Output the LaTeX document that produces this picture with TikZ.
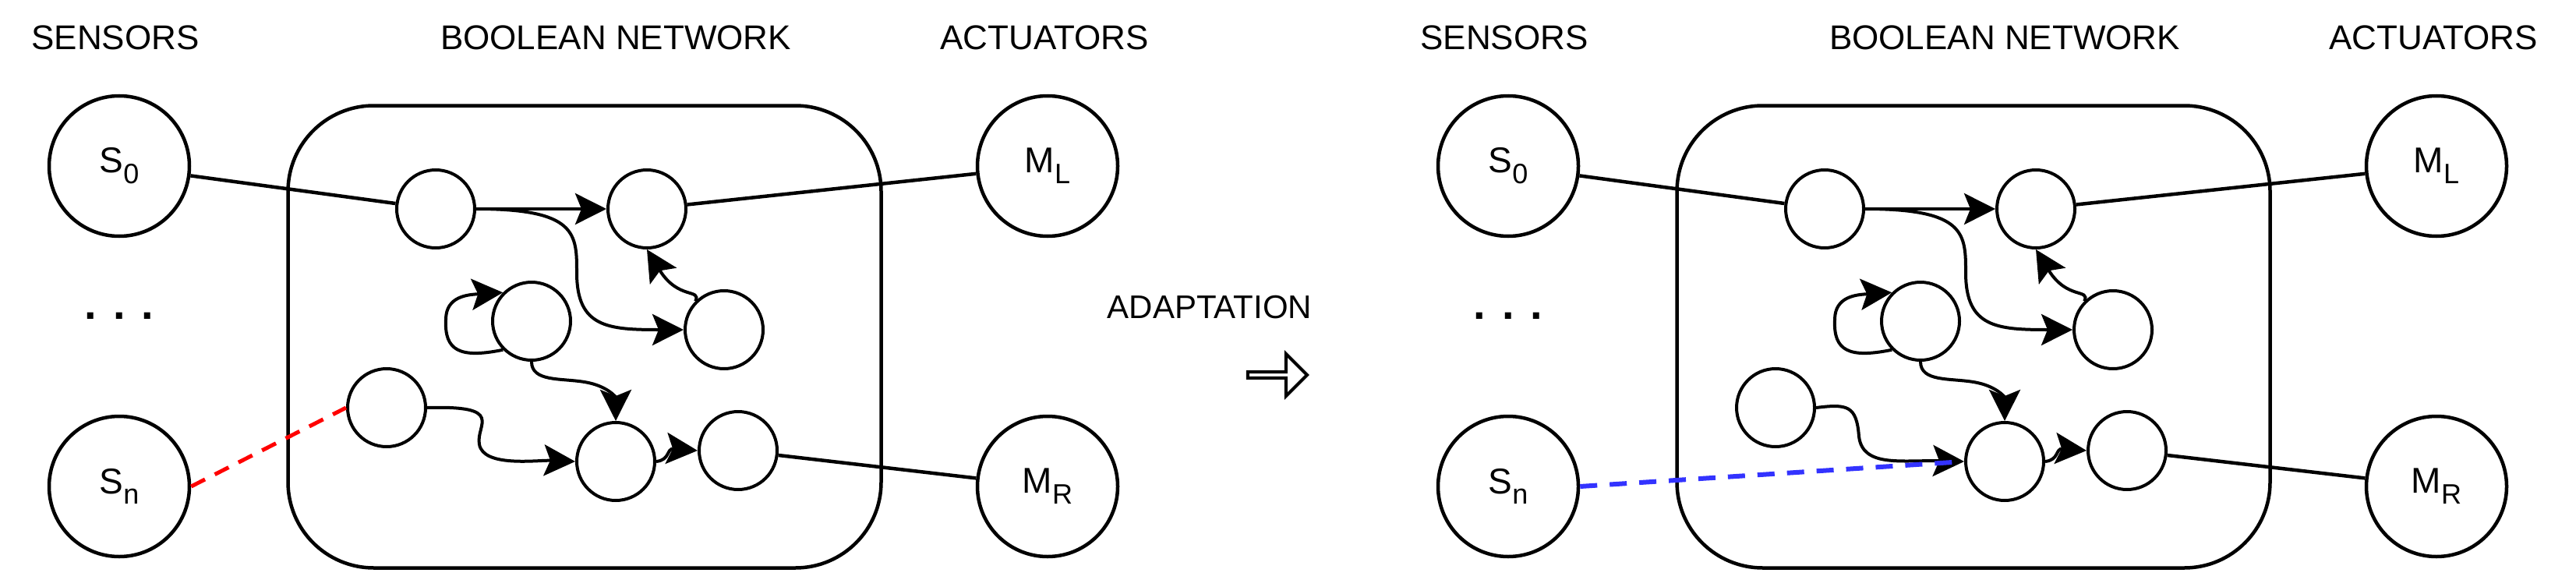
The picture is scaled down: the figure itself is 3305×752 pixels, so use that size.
\documentclass[tikz,border=0pt]{standalone}
\usepackage{fontspec}
\setmainfont{Liberation Sans}
\usetikzlibrary{arrows.meta,shapes.arrows}
\newcommand\mysub[1]{\raisebox{-0.3em}{\fontsize{36}{40}\selectfont #1}}
\begin{document}
\begin{tikzpicture}[x=1pt,y=-1pt,
  big/.style={circle,draw,line width=4.5pt,minimum size=180pt,inner sep=0pt,font=\fontsize{46}{50}\selectfont},
  small/.style={circle,draw,line width=4pt,minimum size=100pt,inner sep=0pt},
  conn/.style={line width=4.5pt},
  edge/.style={line width=4pt,-{Stealth[length=40pt,width=40pt,inset=8pt]}},
  head/.style={font=\fontsize{44}{50}\selectfont,anchor=center}]
\useasboundingbox (0,0) rectangle (3305,752);
\newcommand\panelx[2]{%
\begin{scope}[xshift=#1]
\node[head] (#2h1) at (148,48) {SENSORS};
\node[head] (#2h2) at (790,48) {BOOLEAN NETWORK};
\node[head] (#2h3) at (1340,48) {ACTUATORS};
\node[draw,line width=4.5pt,rounded corners=110pt,minimum width=761pt,minimum height=593pt] (#2box) at (750,432) {};
\node[big] (#2S0) at (153,213) {S\mysub{0}};
\node[big] (#2Sn) at (153,624) {S\mysub{n}};
\node[font=\fontsize{56}{50}\selectfont\bfseries] (#2dots) at (153,405) {. . .};
\node[big] (#2ML) at (1344,213) {M\mysub{L}};
\node[big] (#2MR) at (1344,624) {M\mysub{R}};
\node[small] (#2A) at (559,268) {};
\node[small] (#2B) at (830,268) {};
\node[small] (#2C) at (682,412) {};
\node[small] (#2D) at (929,423) {};
\node[small] (#2E) at (496,523) {};
\node[small] (#2F) at (790,592) {};
\node[small] (#2G) at (947,578) {};
\draw[conn] (#2S0) -- (#2A);
\draw[conn] (#2B) -- (#2ML);
\draw[conn] (#2G) -- (#2MR);
\draw[edge] (#2A) -- (#2B);
\draw[edge] (#2A.east) .. controls (740,268) and (740,300) .. (740,350) .. controls (740,420) and (780,423) .. (#2D.west);
\draw[edge] (#2D.north west) .. controls (900,370) and (870,385) .. (#2B.south);
\draw[edge] (#2C.south west) .. controls (590,460) and (570,450) .. (572,410) .. controls (572,380) and (600,378) .. (#2C.north west);
\draw[edge] (#2C.south) .. controls (682,490) and (720,485) .. (750,490) .. controls (780,495) and (790,510) .. (#2F.north);
\draw[edge] (#2F.east) .. controls (860,590) and (855,575) .. (#2G.west);
\end{scope}}
\panelx{0}{L}
\panelx{1782}{R}
\draw[edge] (LE.east) .. controls (650,520) and (610,545) .. (615,570) .. controls (620,600) and (690,590) .. (LF.west);
\draw[line width=5pt,red,dash pattern=on 20pt off 14pt] (LSn.east) -- (LE.west);
\draw[edge] (RE.east) .. controls (2370,518) and (2382,520) .. (2385,560) .. controls (2390,600) and (2440,590) .. (RF.west);
\draw[line width=6pt,blue!80!white,dash pattern=on 22pt off 16pt] (RSn.east) -- (RF.west);
\node[font=\fontsize{42}{50}\selectfont] (adapt) at (1552,394) {ADAPTATION};
\node[single arrow,draw,line width=4pt,minimum height=76pt,single arrow head extend=12pt,minimum width=54pt,inner sep=0pt] (harrow) at (1637,481) {};
\end{tikzpicture}
\end{document}
